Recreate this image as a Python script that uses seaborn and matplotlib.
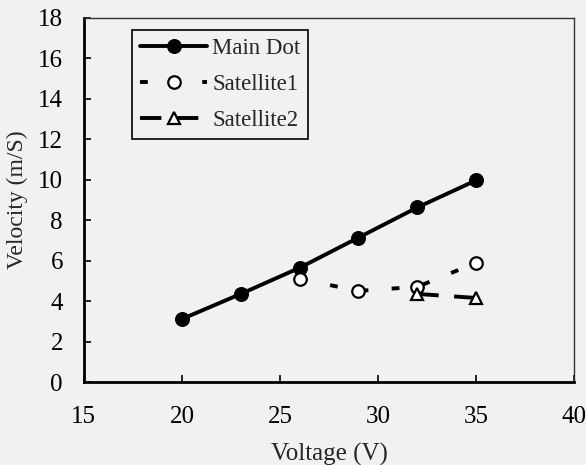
import matplotlib
matplotlib.use("Agg")
import matplotlib.pyplot as plt
import seaborn as sns
import pandas as pd

main_v = [20, 23, 26, 29, 32, 35]
main_speed = [3.12, 4.36, 5.65, 7.14, 8.63, 9.97]
sat1_v = [26, 29, 32, 35]
sat1_speed = [5.1, 4.51, 4.71, 5.9]
sat2_v = [32, 35]
sat2_speed = [4.36, 4.16]

x_ticks = [15, 20, 25, 30, 35, 40]
y_ticks = list(range(0, 19, 2))

sns.set_theme(style="ticks")
plt.rcParams['font.family'] = ['Liberation Serif', 'DejaVu Serif']
bg = "#f1f1f1"

fig, ax = plt.subplots(figsize=(5.86, 4.65), dpi=100)
fig.patch.set_facecolor(bg)
ax.set_facecolor(bg)

df_main = pd.DataFrame({"v": main_v, "s": main_speed})
df_s1 = pd.DataFrame({"v": sat1_v, "s": sat1_speed})
df_s2 = pd.DataFrame({"v": sat2_v, "s": sat2_speed})

sns.lineplot(data=df_main, x="v", y="s", ax=ax, color="black", lw=2.8,
             marker="o", markersize=10, markerfacecolor="black",
             markeredgecolor="black", label="Main Dot")
sns.lineplot(data=df_s1, x="v", y="s", ax=ax, color="black", lw=2.8,
             linestyle=(0, (2, 6)), marker="o", markersize=9,
             markerfacecolor="white", markeredgecolor="black",
             markeredgewidth=1.6, label="Satellite1")
sns.lineplot(data=df_s2, x="v", y="s", ax=ax, color="black", lw=2.8,
             linestyle=(0, (5.5, 4)), marker="^", markersize=9,
             markerfacecolor="white", markeredgecolor="black",
             markeredgewidth=1.6, label="Satellite2")

ax.set_xlim(15, 40)
ax.set_ylim(0, 18)
ax.set_xticks(x_ticks)
ax.set_yticks(y_ticks)
ax.tick_params(direction="in", length=5, width=1.2, labelsize=18,
               colors="black")
ax.tick_params(axis="x", pad=17)
ax.tick_params(axis="y", pad=15)
for side in ["left", "bottom"]:
    ax.spines[side].set_linewidth(2)
    ax.spines[side].set_color("black")
for side in ["top", "right"]:
    ax.spines[side].set_visible(True)
    ax.spines[side].set_linewidth(1)
    ax.spines[side].set_color("#333333")
    ax.spines[side].set_linestyle((0, (2, 1)))

ax.set_xlabel("Voltage (V)", fontsize=18, labelpad=11)
ax.set_ylabel("Velocity (m/S)", fontsize=17, labelpad=7)

leg = ax.legend(loc="upper left", bbox_to_anchor=(0.098, 0.967), fontsize=16.5,
                frameon=True, fancybox=False, edgecolor="black",
                framealpha=1, handlelength=2.95, handletextpad=0.2,
                borderpad=0.35, labelspacing=0.65, borderaxespad=0)
leg.get_frame().set_facecolor(bg)
leg.get_frame().set_linewidth(1.2)

fig.subplots_adjust(left=0.143, right=0.98, top=0.962, bottom=0.178)
fig.savefig("out.png", dpi=100, facecolor=bg)
